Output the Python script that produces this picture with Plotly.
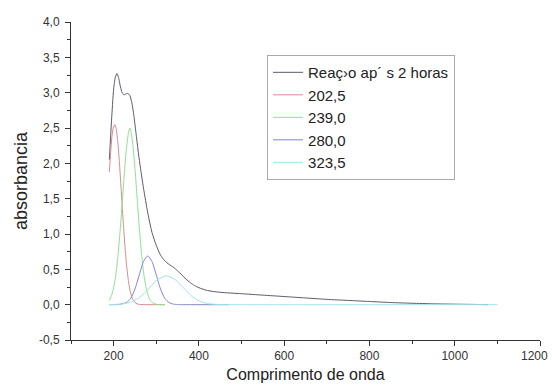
import plotly.graph_objects as go

# ---- data ----
total_x = [190, 195, 200, 204, 208, 212, 216, 220, 224, 228, 233, 238, 243, 248, 253, 258, 263, 270, 280, 290,
           300, 310, 320, 330, 340, 350, 360, 370, 380, 390, 400, 420, 450, 500, 550, 600, 650, 700, 750, 800,
           850, 900, 950, 1000, 1050, 1078]
total_y = [2.05, 2.60, 3.05, 3.22, 3.27, 3.20, 3.08, 3.00, 2.97, 2.98, 2.99, 2.96, 2.85, 2.65, 2.40, 2.15, 1.93, 1.65, 1.30, 1.02,
           0.84, 0.70, 0.62, 0.57, 0.53, 0.48, 0.42, 0.36, 0.31, 0.27, 0.24, 0.20, 0.175, 0.155, 0.135, 0.115, 0.095, 0.075, 0.06, 0.045,
           0.03, 0.02, 0.012, 0.007, 0.003, 0.0]

red_x = [190, 193, 196, 199, 202.5, 206, 210, 214, 218, 222, 226, 230, 235, 240, 245, 250, 255, 260, 280, 320]
red_y = [1.88, 2.15, 2.38, 2.50, 2.55, 2.49, 2.29, 1.97, 1.60, 1.21, 0.87, 0.58, 0.32, 0.16, 0.075, 0.03, 0.012, 0.004, 0.0, 0.0]

green_x = [190, 195, 200, 205, 210, 215, 220, 225, 230, 235, 238, 241, 246, 251, 256, 261, 266, 271, 276, 281, 286, 293, 303, 320]
green_y = [0.06, 0.13, 0.24, 0.42, 0.68, 1.03, 1.43, 1.85, 2.21, 2.44, 2.50, 2.44, 2.21, 1.85, 1.43, 1.03, 0.68, 0.42, 0.24, 0.13, 0.06, 0.02, 0.003, 0.0]

blue_x = [190, 210, 230, 240, 250, 260, 270, 280, 290, 300, 310, 320, 330, 340, 350, 360, 470]
blue_y = [0.0, 0.0015, 0.03, 0.09, 0.22, 0.42, 0.61, 0.69, 0.61, 0.42, 0.22, 0.09, 0.03, 0.008, 0.002, 0.0, 0.0]

cyan_x = [190, 220, 240, 260, 280, 300, 323.5, 345, 365, 385, 405, 425, 450, 500, 1100]
cyan_y = [0.001, 0.01, 0.037, 0.10, 0.21, 0.34, 0.41, 0.35, 0.23, 0.11, 0.04, 0.012, 0.002, 0.0, 0.0]

series_names = ["Reaç›o ap´ s 2 horas", "202,5", "239,0", "280,0", "323,5"]
series_colors = ["#5e5a6a", "#d98a8c", "#8ee08e", "#8585c8", "#9ee6ea"]

y_tick_vals = [-0.5, 0.0, 0.5, 1.0, 1.5, 2.0, 2.5, 3.0, 3.5, 4.0]
y_tick_text = ["-0,5", "0,0", "0,5", "1,0", "1,5", "2,0", "2,5", "3,0", "3,5", "4,0"]
x_tick_vals = [200, 400, 600, 800, 1000, 1200]
x_tick_text = ["200", "400", "600", "800", "1000", "1200"]

FONT = "Liberation Sans, Arial, sans-serif"

fig = go.Figure()
for xs, ys, name, col in zip(
    [total_x, red_x, green_x, blue_x, cyan_x],
    [total_y, red_y, green_y, blue_y, cyan_y],
    series_names, series_colors,
):
    fig.add_trace(go.Scatter(x=xs, y=ys, mode="lines", name=name,
                             line=dict(color=col, width=1, shape="spline", smoothing=0.6)))

axis_common = dict(
    showgrid=False, zeroline=False, showline=True, linecolor="#333333", linewidth=1,
    ticks="outside", ticklen=5, tickcolor="#333333", tickwidth=1, automargin=False,
    tickfont=dict(family=FONT, size=12, color="#333333"),
)

# the last x tick label sits at the page edge, so it is drawn as an annotation
# anchored at its tick value and nudged left to stay fully visible
shown_x_text = x_tick_text[:-1] + [""]

fig.update_layout(
    width=552, height=391,
    margin=dict(l=71, r=12, t=22, b=51),
    paper_bgcolor="white", plot_bgcolor="white",
    font=dict(family=FONT, color="#222222"),
    xaxis=dict(range=[100, 1200], tickvals=x_tick_vals, ticktext=shown_x_text,
               minor=dict(ticks="outside", ticklen=3, dtick=100, tick0=100, tickcolor="#333333"),
               title=dict(text="Comprimento de onda", font=dict(size=16), standoff=6),
               **axis_common),
    yaxis=dict(range=[-0.5, 4.0], tickvals=y_tick_vals, ticktext=y_tick_text,
               minor=dict(ticks="outside", ticklen=3, dtick=0.25, tick0=0, tickcolor="#333333"),
               title=dict(text="absorbancia", font=dict(size=18), standoff=6),
               ticklabelstandoff=3,
               **axis_common),
    legend=dict(x=0.418, y=0.896, xanchor="left", yanchor="top",
                bgcolor="white", bordercolor="#aaaaaa", borderwidth=1,
                font=dict(size=15, color="#222222"), tracegroupgap=0),
    showlegend=True,
    annotations=[dict(x=x_tick_vals[-1], xref="x", y=0, yref="paper", yanchor="top",
                      xanchor="right", xshift=10, yshift=-7, showarrow=False, text=x_tick_text[-1],
                      font=dict(family=FONT, size=12, color="#333333"))],
)

fig.write_html("out.html", config={"displayModeBar": False},
               post_script="document.body.style.margin='0px';")
